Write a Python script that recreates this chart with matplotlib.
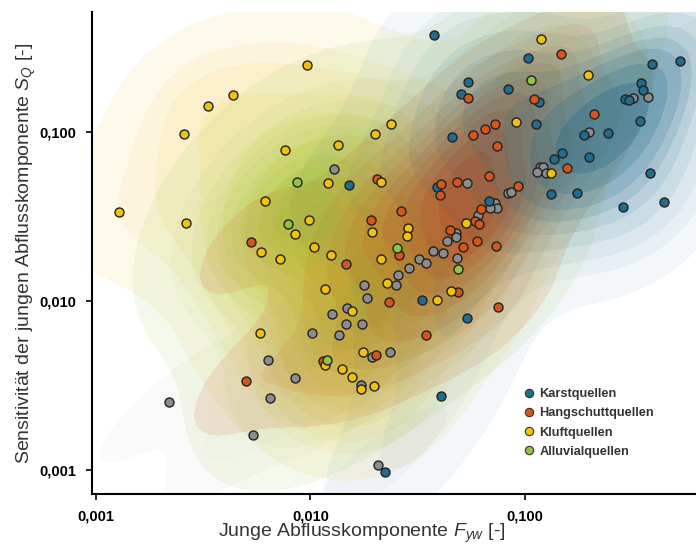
import matplotlib
matplotlib.use("Agg")
import numpy as np
import matplotlib.pyplot as plt
from matplotlib.ticker import FuncFormatter
from matplotlib.lines import Line2D
from matplotlib.colors import to_rgb

plt.rcParams['font.family'] = ['Liberation Sans', 'DejaVu Sans']
plt.rcParams['mathtext.fontset'] = 'custom'
plt.rcParams['mathtext.rm'] = 'Liberation Sans'
plt.rcParams['mathtext.it'] = 'Liberation Sans:italic'

# Karstquellen
karst_x = [0.0377, 0.0542, 0.0503, 0.0457, 0.103, 0.391, 0.528, 0.0834, 0.348, 0.355,
           0.292, 0.306, 0.116, 0.344, 0.112, 0.188, 0.244, 0.149, 0.137, 0.199,
           0.383, 0.132, 0.175, 0.286, 0.445, 0.0679, 0.0389, 0.0151, 0.0331, 0.0537,
           0.0406, 0.0222]
karst_y = [0.375, 0.198, 0.168, 0.0933, 0.274, 0.252, 0.263, 0.180, 0.195, 0.177,
           0.157, 0.155, 0.151, 0.116, 0.111, 0.0959, 0.0986, 0.0752, 0.0692, 0.0711,
           0.0572, 0.0430, 0.0436, 0.0360, 0.0385, 0.0391, 0.0473, 0.0486, 0.0101, 0.00793,
           0.00274, 0.000973]

# Hangschuttquellen
hang_x = [0.0542, 0.0724, 0.0652, 0.0572, 0.0740, 0.0679, 0.0204, 0.0482, 0.147, 0.110,
          0.210, 0.157, 0.0927, 0.0406, 0.0402, 0.0624, 0.0585, 0.0611, 0.0447, 0.0597,
          0.0514, 0.0733, 0.0264, 0.0191, 0.0147, 0.0259, 0.0487, 0.0232, 0.0748, 0.0345,
          0.00528, 0.00500, 0.0202, 0.0114]
hang_y = [0.159, 0.111, 0.104, 0.0959, 0.0826, 0.0550, 0.0527, 0.0506, 0.290, 0.157,
          0.128, 0.0612, 0.0479, 0.0492, 0.0424, 0.0350, 0.0297, 0.0286, 0.0263, 0.0226,
          0.0209, 0.0211, 0.0341, 0.0301, 0.0166, 0.0187, 0.0113, 0.00986, 0.00921, 0.00629,
          0.0223, 0.00336, 0.00479, 0.00442]

# Kluftquellen
kluft_x = [0.00435, 0.00333, 0.00257, 0.00760, 0.00963, 0.0237, 0.0200, 0.0134, 0.0213, 0.119,
           0.197, 0.0908, 0.132, 0.0121, 0.0194, 0.0285, 0.0282, 0.00984, 0.00847, 0.0104,
           0.0125, 0.0213, 0.0531, 0.0117, 0.0227, 0.0389, 0.0452, 0.0156, 0.0176, 0.00128,
           0.00263, 0.00614, 0.00588, 0.00721, 0.00582, 0.0117, 0.0140, 0.0156, 0.0172, 0.0198]
kluft_y = [0.166, 0.143, 0.0973, 0.0782, 0.249, 0.111, 0.0973, 0.0838, 0.0506, 0.355,
           0.217, 0.115, 0.0572, 0.0499, 0.0256, 0.0270, 0.0243, 0.0301, 0.0249, 0.0209,
           0.0187, 0.0177, 0.0290, 0.0118, 0.0128, 0.0101, 0.0115, 0.00873, 0.00499, 0.0336,
           0.0290, 0.0391, 0.0195, 0.0177, 0.00647, 0.00418, 0.00396, 0.00355, 0.00301, 0.00314]

# Alluvialquellen
alluv_x = [0.00865, 0.107, 0.00785, 0.0253, 0.0487, 0.0119]
alluv_y = [0.0506, 0.203, 0.0286, 0.0206, 0.0155, 0.00448]

# ohne Zuordnung (grau)
other_x = [0.0129, 0.0537, 0.117, 0.121, 0.114, 0.125, 0.318, 0.374, 0.199, 0.0834,
           0.0861, 0.0724, 0.0740, 0.0687, 0.0604, 0.0476, 0.0476, 0.0433, 0.0372, 0.0415,
           0.0482, 0.0321, 0.0345, 0.0288, 0.0256, 0.0177, 0.0251, 0.0183, 0.0148, 0.0126,
           0.0147, 0.0174, 0.0102, 0.0136, 0.0235, 0.0194, 0.0172, 0.00634, 0.00847, 0.00647,
           0.00219, 0.00539, 0.0207]
other_y = [0.0604, 0.0499, 0.0621, 0.0621, 0.0580, 0.0572, 0.159, 0.161, 0.100, 0.0436,
           0.0442, 0.0380, 0.0355, 0.0355, 0.0323, 0.0252, 0.0239, 0.0226, 0.0198, 0.0192,
           0.0180, 0.0177, 0.0168, 0.0157, 0.0143, 0.0124, 0.0124, 0.0104, 0.00910, 0.00838,
           0.00731, 0.00731, 0.00647, 0.00629, 0.00499, 0.00467, 0.00318, 0.00448, 0.00350, 0.00267,
           0.00252, 0.00161, 0.00106]

labels = ['Karstquellen', 'Hangschuttquellen', 'Kluftquellen', 'Alluvialquellen']
colors = ['#226b8d', '#d4561c', '#f1c10f', '#8cc63f']
grey = '#8c8c8c'

groups = [(karst_x, karst_y), (hang_x, hang_y), (kluft_x, kluft_y), (alluv_x, alluv_y)]


def kde_grid(xs, ys, bw=1.0, n=240):
    # gaussian kde in log10 space, scott bandwidth, full covariance
    lx = np.log10(xs)
    ly = np.log10(ys)
    pts = np.vstack([lx, ly])
    fac = (pts.shape[1] ** (-1 / 6)) * bw
    cov = np.cov(pts) * fac ** 2
    inv = np.linalg.inv(cov)
    gx = np.linspace(-4.2, 0.8, n)
    gy = np.linspace(-4.6, 0.8, n)
    X, Y = np.meshgrid(gx, gy)
    Z = np.zeros_like(X)
    for a, b in zip(lx, ly):
        dx = X - a
        dy = Y - b
        Z += np.exp(-0.5 * (inv[0, 0] * dx * dx + 2 * inv[0, 1] * dx * dy + inv[1, 1] * dy * dy))
    return 10 ** X, 10 ** Y, Z


def iso_levels(Z, thresh=0.05, nlev=10):
    vals = np.sort(Z.ravel())[::-1]
    cum = np.cumsum(vals) / vals.sum()
    props = np.linspace(thresh, 1, nlev)
    idx = np.searchsorted(cum, 1 - props)
    return np.take(vals, idx, mode='clip')


def shade(ax, xs, ys, color, amax=0.75, amin=0.06, gamma=1.2, bw=1.0, thresh=0.05):
    # nested fills; each layer adds opacity so the total follows amin..amax
    X, Y, Z = kde_grid(xs, ys, bw=bw)
    lev = iso_levels(Z, thresh=thresh)
    rgb = to_rgb(color)
    nb = len(lev) - 1
    prev = 0.0
    for i in range(nb):
        t = (i + 1) / nb
        target = amin + (amax - amin) * t ** gamma
        a = 1 - (1 - target) / (1 - prev)
        prev = target
        ax.contourf(X, Y, Z, levels=[lev[i], Z.max() * 1.01], colors=[rgb + (a,)], zorder=1)


fig = plt.figure(figsize=(6.96, 5.45), dpi=100)
ax = fig.add_axes([0.132, 0.094, 0.868, 0.884])
ax.set_xscale('log')
ax.set_yscale('log')

# density shading
shade(ax, other_x, other_y, grey, amax=0.22, amin=0.03)
shade(ax, kluft_x, kluft_y, colors[2], amax=0.72, amin=0.03)
shade(ax, alluv_x, alluv_y, colors[3], amax=0.6)
shade(ax, hang_x, hang_y, colors[1], amax=0.9)
shade(ax, karst_x, karst_y, colors[0], amax=0.72, amin=0.03, gamma=1.6)

# points
ax.scatter(other_x, other_y, s=42, color=grey, edgecolor='#222222', linewidth=1, zorder=5)
for (gx, gy), c in zip(groups, colors):
    ax.scatter(gx, gy, s=42, color=c, edgecolor='#222222', linewidth=1, zorder=5)

ax.set_xlim(0.000958, 0.627)
ax.set_ylim(0.000721, 0.513)
ax.set_xticks([0.001, 0.01, 0.1])
ax.set_yticks([0.001, 0.01, 0.1])
ax.minorticks_off()
fmt = FuncFormatter(lambda v, p: f'{v:.3f}'.replace('.', ','))
ax.xaxis.set_major_formatter(fmt)
ax.yaxis.set_major_formatter(fmt)
for lab in ax.get_xticklabels() + ax.get_yticklabels():
    lab.set_fontweight('bold')
    lab.set_fontsize(10.5)
ax.tick_params(length=4, width=1.2, color='black', pad=7)

for s in ['top', 'right']:
    ax.spines[s].set_visible(False)
ax.spines['left'].set_linewidth(1.5)
ax.spines['bottom'].set_linewidth(1.5)

ax.set_xlabel('Junge Abflusskomponente $F_{yw}$ [-]', fontsize=14, color='#333333')
ax.xaxis.set_label_coords(0.447, -0.059)
ax.set_ylabel('Sensitivität der jungen Abflusskomponente $S_Q$ [-]', fontsize=14,
              color='#333333', labelpad=1)

handles = [Line2D([], [], marker='o', linestyle='', markersize=6, markerfacecolor=c,
                  markeredgecolor='#333333', markeredgewidth=0.8) for c in colors]
leg = ax.legend(handles, labels, loc='upper left', bbox_to_anchor=(0.694, 0.243),
                frameon=False, handletextpad=0.3, handlelength=1.0, labelspacing=0.56,
                prop={'weight': 'bold', 'size': 9.2})
for t in leg.get_texts():
    t.set_color('#333333')

fig.savefig('out.png', dpi=100)
